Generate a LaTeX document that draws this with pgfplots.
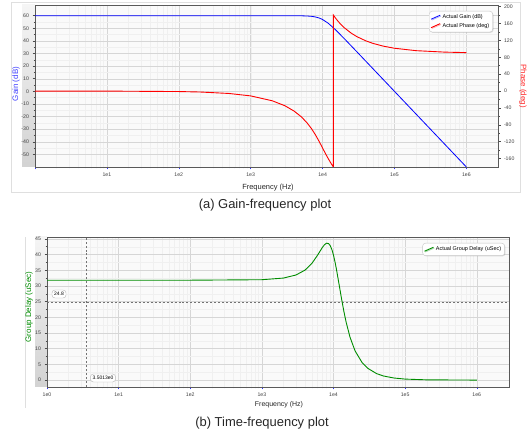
\documentclass[border=0pt]{standalone}
\usepackage{fontspec}
\setmainfont{Liberation Sans}
\usepackage{pgfplots}
\usepackage{pgfplotstable}
\pgfplotsset{compat=1.18}
\usetikzlibrary{shadows}

\pgfplotstableread{
f gain
1 60
1000 60
2000 60
3000 60
4000 59.98
5000 59.93
6000 59.80
7000 59.52
8000 58.99
9000 58.15
10000 56.99
12000 54.00
15000 49.07
20000 41.87
30000 31.37
50000 18.06
100000 0
1000000 -60
}\gaintable

\pgfplotstableread{
f phase
1 -0.01
10 -0.11
100 -1.15
200 -2.29
500 -5.73
1000 -11.48
2000 -23.08
3000 -34.94
4000 -47.26
5000 -60.26
6000 -74.12
7000 -88.91
8000 -104.43
9000 -120.07
9500 -127.67
10000 -135.00
10500 -141.98
11000 -148.54
12000 -160.33
13000 -170.39
13500 -174.83
14000 -178.90
14142 -180
14142 180
15000 173.88
16000 167.74
17000 162.44
18000 157.83
20000 150.26
25000 137.26
30000 129.00
40000 118.97
50000 113.08
70000 106.43
100000 101.48
200000 95.73
500000 92.29
1000000 91.15
}\phasetable

\pgfplotstableread{
f delay
1 31.83
100 31.83
1000 31.99
2000 32.51
3000 33.50
4000 35.05
5000 37.22
6000 39.83
7000 42.30
7500 43.17
8000 43.62
8500 43.53
9000 42.84
9500 41.57
10000 39.79
10500 37.63
11000 35.25
12000 30.29
13000 25.68
14000 21.72
15000 18.46
17000 13.67
20000 9.30
25000 5.61
30000 3.77
40000 2.06
50000 1.30
70000 0.66
100000 0.32
200000 0.08
1000000 0.003
}\delaytable

\begin{document}
\begin{tikzpicture}
\useasboundingbox (0bp,0bp) rectangle (530bp,436bp);
% panel frames
\draw[gray!25, line width=0.6pt] (11bp,244bp) rectangle (520bp,434bp);
\draw[gray!25, line width=0.6pt] (25bp,28bp) -- (25bp,199bp);
% shaded tick strips
\shade[top color=gray!8, bottom color=gray!35] (22bp,269bp) rectangle (35bp,431bp);
\shade[top color=gray!8, bottom color=gray!35] (35bp,49bp) rectangle (47bp,199bp);

% ---------- top: gain ----------
\begin{axis}[
  scale only axis, xmode=log,
  at={(35bp,269bp)}, anchor=south west, width=463bp, height=162bp,
  xmin=1, xmax=2.754e6, ymin=-60, ymax=68.5,
  tick align=outside,
  ticklabel style={font=\fontsize{5.2}{6}\selectfont, text=black!75},
  axis line style={black!65, line width=0.8pt},
  major tick length=2.5bp, minor tick length=1.5bp,
  x tick style={blue!80, line width=0.5pt},
  y tick style={black!70, line width=0.5pt},
  axis background/.style={fill=gray!4},
  grid=both,
  major grid style={gray!32, line width=0.45pt},
  minor grid style={gray!12, line width=0.35pt},
  xtick={1,10,100,1000,10000,100000,1000000},
  xticklabels={,1e1,1e2,1e3,1e4,1e5,1e6},
  ytick={-50,-40,...,60}, minor y tick num=1,
  ytick pos=left, xtick pos=bottom,
  /pgf/number format/assume math mode=true,
]
\addplot[blue, line width=0.8pt] table[x=f, y=gain] {\gaintable};
\end{axis}

% ---------- top: phase ----------
\begin{axis}[
  scale only axis, xmode=log,
  at={(35bp,269bp)}, anchor=south west, width=463bp, height=162bp,
  xmin=1, xmax=2.754e6, ymin=-180, ymax=204,
  axis x line=none, axis y line*=right,
  tick align=outside,
  ticklabel style={font=\fontsize{5.2}{6}\selectfont, text=black!75},
  axis line style={black!65, line width=0.8pt},
  major tick length=2.5bp, minor tick length=1.5bp,
  y tick style={black!70, line width=0.5pt},
  ytick={-160,-120,...,200}, minor y tick num=1,
  legend image code/.code={\draw[#1] (0bp,-1.8bp) -- (9bp,2.2bp);},
  legend cell align=left,
  legend style={at={(0.989,0.963)}, anchor=north east,
    font=\fontsize{5.5}{6.5}\selectfont, draw=gray!45, fill=white,
    rounded corners=3pt, inner sep=1.5pt, row sep=-1pt,
    drop shadow={opacity=0.25, shadow xshift=0.8pt, shadow yshift=-0.8pt}},
  /pgf/number format/assume math mode=true,
]
\addlegendimage{blue, line width=0.8pt}
\addlegendentry{Actual Gain (dB)}
\addplot[red, line width=0.9pt] table[x=f, y=phase] {\phasetable};
\addlegendentry{Actual Phase (deg)}
\end{axis}

\node[font=\fontsize{7.5}{8}\selectfont, text=black!85] at (268bp,248bp) {Frequency (Hz)};
\node[font=\fontsize{8}{9}\selectfont, text=blue!75, rotate=90] at (16bp,352bp) {Gain (dB)};
\node[font=\fontsize{8}{9}\selectfont, text=red!85, rotate=-90] at (523bp,350bp) {Phase (deg)};
\node[font=\fontsize{13}{15}\selectfont, text=black!85] at (265bp,231bp) {(a)\ Gain-frequency plot};

% ---------- bottom: group delay ----------
\begin{axis}[
  scale only axis, xmode=log,
  at={(47bp,49bp)}, anchor=south west, width=462bp, height=150bp,
  xmin=1, xmax=2.818e6, ymin=-2.2, ymax=45.6,
  tick align=outside,
  ticklabel style={font=\fontsize{5.2}{6}\selectfont, text=black!75},
  axis line style={black!65, line width=0.8pt},
  major tick length=2.5bp, minor tick length=1.5bp,
  x tick style={blue!80, line width=0.5pt},
  y tick style={black!70, line width=0.5pt},
  axis background/.style={fill=gray!4},
  grid=both,
  major grid style={gray!32, line width=0.45pt},
  minor grid style={gray!12, line width=0.35pt},
  xtick={1,10,100,1000,10000,100000,1000000},
  xticklabels={1e0,1e1,1e2,1e3,1e4,1e5,1e6},
  ytick={0,5,...,45}, minor y tick num=1,
  ytick pos=left, xtick pos=bottom,
  legend image code/.code={\draw[#1] (0bp,-1.8bp) -- (9bp,2.2bp);},
  legend cell align=left,
  legend style={at={(0.991,0.96)}, anchor=north east,
    font=\fontsize{5.5}{6.5}\selectfont, draw=gray!45, fill=white,
    rounded corners=3pt, inner sep=1.5pt,
    drop shadow={opacity=0.25, shadow xshift=0.8pt, shadow yshift=-0.8pt}},
  /pgf/number format/assume math mode=true,
]
\addplot[black!55, line width=0.6pt, dash pattern=on 2pt off 2pt, forget plot] coordinates {(1,24.8) (2.818e6,24.8)};
\addplot[black!55, line width=0.6pt, dash pattern=on 2pt off 2pt, forget plot] coordinates {(3.5013,-2.2) (3.5013,45.6)};
\addplot[green!55!black, line width=0.9pt] table[x=f, y=delay] {\delaytable};
\addlegendentry{Actual Group Delay (uSec)}
\end{axis}

\node[draw=gray!55, fill=white, rounded corners=3pt, inner sep=2.2pt, font=\fontsize{5}{6}\selectfont] at (59bp,142bp) {24.8};
\node[draw=gray!55, fill=white, rounded corners=3pt, inner sep=2.2pt, font=\fontsize{5}{6}\selectfont] at (103bp,58bp) {3.5013e0};

\node[font=\fontsize{7}{8}\selectfont, text=black!85] at (279bp,31bp) {Frequency (Hz)};
\node[font=\fontsize{8}{9}\selectfont, text=green!55!black, rotate=90] at (29bp,129bp) {Group Delay (uSec)};
\node[font=\fontsize{13}{15}\selectfont, text=black!85] at (262bp,13bp) {(b)\ Time-frequency plot};
\end{tikzpicture}
\end{document}
